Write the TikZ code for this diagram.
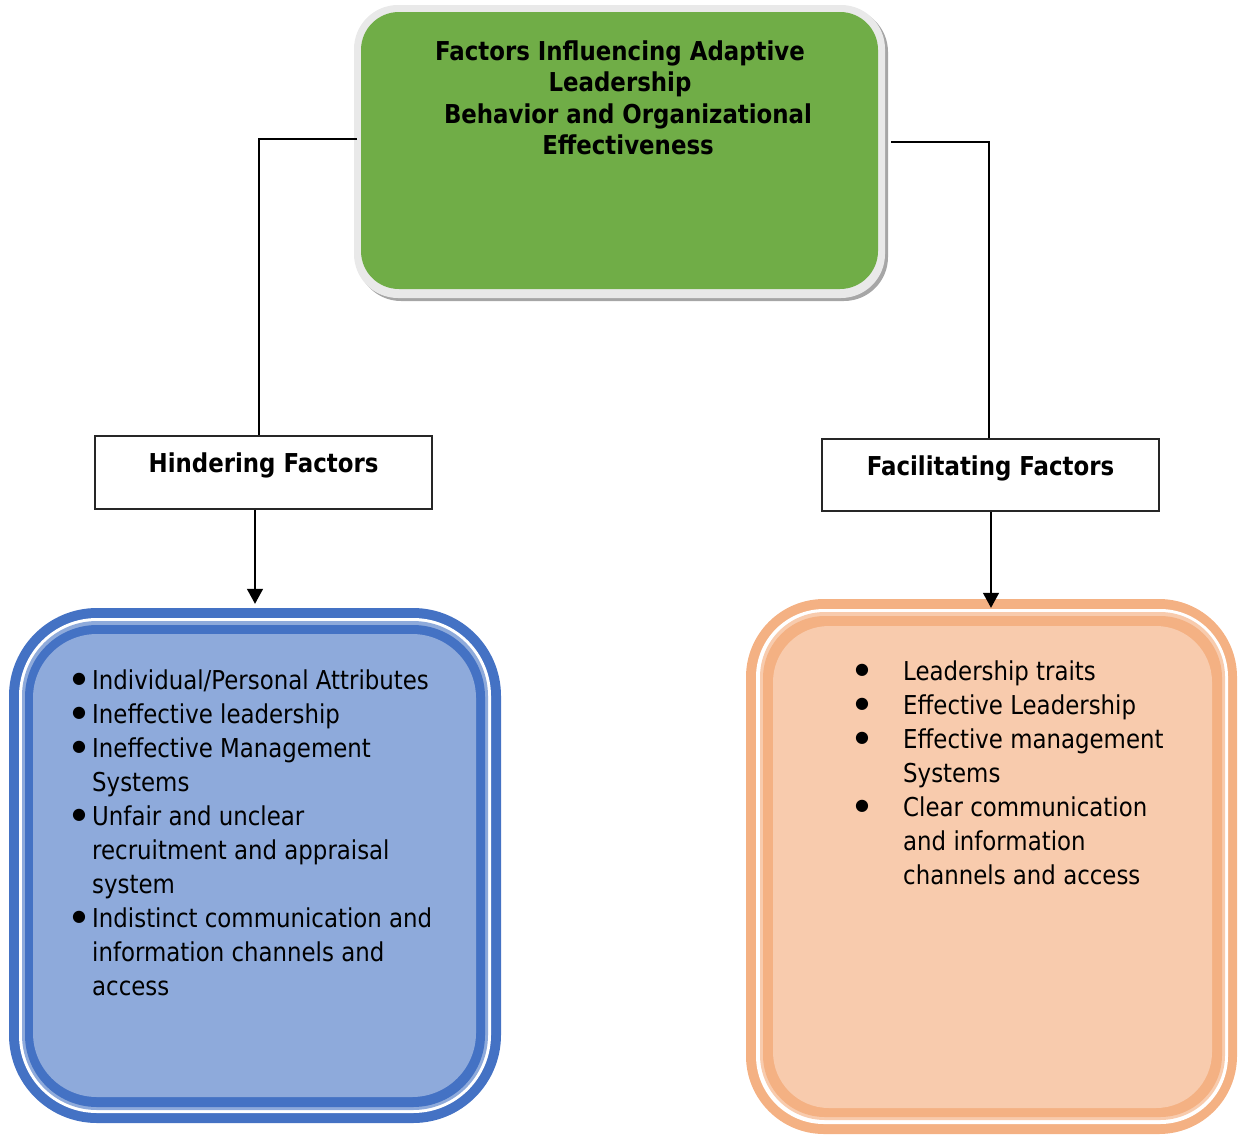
\documentclass[tikz,border=0pt]{standalone}
\usepackage{fontspec}
\setmainfont{DejaVu Sans}[FakeStretch=0.88]
\newfontfamily\bulfont{DejaVu Sans}
\usetikzlibrary{arrows.meta}
\definecolor{grn}{HTML}{70AD47}
\definecolor{bdark}{HTML}{4472C4}
\definecolor{blight}{HTML}{8EAADB}
\definecolor{odark}{HTML}{F4B183}
\definecolor{olight}{HTML}{F8CBAD}
\definecolor{ringgray}{HTML}{E9E9E9}
\definecolor{shadowgray}{HTML}{A6A6A6}
\newcommand\bl[1]{\makebox[#1][c]{\raisebox{5.5pt}{\bulfont\fontsize{16}{16}\selectfont ●}}}
\begin{document}
\begin{tikzpicture}[x=1pt,y=-1pt,
  lbl/.style={inner sep=0pt, font=\fontsize{26}{31.5}\selectfont\bfseries, align=center},
  hbox/.style={draw=black!85, line width=1.2pt, minimum width=337pt, inner xsep=0pt, inner ysep=0pt, text height=36pt, font=\fontsize{26}{31.5}\selectfont\bfseries},
  conn/.style={line width=1.4pt},
  arr/.style={line width=1.4pt, -{Triangle[length=15pt,width=16pt]}},
  lst/.style={inner sep=0pt, anchor=north west, font=\fontsize{26}{34}\selectfont}
]
\useasboundingbox (0,0) rectangle (1241,1135);
% top green box
\fill[shadowgray, rounded corners=44pt] (357,8) rectangle (888,301);
\fill[ringgray, rounded corners=44pt] (354,5) rectangle (885,298);
\node[fill=grn, rounded corners=38pt, minimum width=517pt, minimum height=277pt, inner sep=0pt] (top) at (619.5,150.5) {};
\node[lbl, anchor=north] (toptext) at (620,38) {\strut Factors Influencing Adaptive\\Leadership\\\hspace*{16pt}Behavior and Organizational\\\hspace*{16pt}Effectiveness};
% middle boxes
\node[hbox, text depth=37pt] (hind) at (263.5,472.5) {Hindering Factors};
\node[hbox, text depth=36pt] (fac) at (990.5,475) {Facilitating Factors};
% blue box
\node[fill=bdark, rounded corners=88pt, minimum width=492pt, minimum height=515pt, inner sep=0pt] (hbody) at (255,865.5) {};
\fill[white, rounded corners=78pt] (19,618) rectangle (491,1113);
\fill[blight, rounded corners=75pt] (22,621) rectangle (488,1110);
\fill[bdark, rounded corners=72pt] (25,625) rectangle (485,1107);
\fill[blight, rounded corners=64pt] (33,634) rectangle (476,1097);
\node[lst] (hitems) at (66,665.2) {\begin{tabular}{@{}l@{}l@{}}
\bl{26pt}&Individual/Personal Attributes\\
\bl{26pt}&Ineffective leadership\\
\bl{26pt}&Ineffective Management\\
&Systems\\
\bl{26pt}&Unfair and unclear\\
&recruitment and appraisal\\
&system\\
\bl{26pt}&Indistinct communication and\\
&information channels and\\
&access
\end{tabular}};
% orange box
\node[fill=odark, rounded corners=78pt, minimum width=491pt, minimum height=535pt, inner sep=0pt] (fbody) at (991.5,866.5) {};
\fill[white, rounded corners=68pt] (756,609) rectangle (1228,1124);
\fill[olight, rounded corners=65pt] (760,612) rectangle (1225,1120);
\fill[odark, rounded corners=62pt] (763,616) rectangle (1222,1117);
\fill[olight, rounded corners=56pt] (773,626) rectangle (1212,1108);
\node[lst] (fitems) at (821,656.2) {\begin{tabular}{@{}l@{}l@{}}
\bl{82pt}&Leadership traits\\
\bl{82pt}&Effective Leadership\\
\bl{82pt}&Effective management\\
&Systems\\
\bl{82pt}&Clear communication\\
&and information\\
&channels and access
\end{tabular}};
% connectors
\coordinate (lstart) at (357,139);
\coordinate (rstart) at (891,142);
\draw[conn] (lstart) -| ([xshift=-4.5pt]hind.north);
\draw[conn] (rstart) -| ([xshift=-1.5pt]fac.north);
\draw[arr, shorten >=4pt] ([xshift=-8.5pt]hind.south) -- ([xshift=-8.5pt]hind.south |- hbody.north);
\draw[arr, shorten >=-9pt] ([xshift=0.5pt]fac.south) -- ([xshift=0.5pt]fac.south |- fbody.north);
\end{tikzpicture}
\end{document}
